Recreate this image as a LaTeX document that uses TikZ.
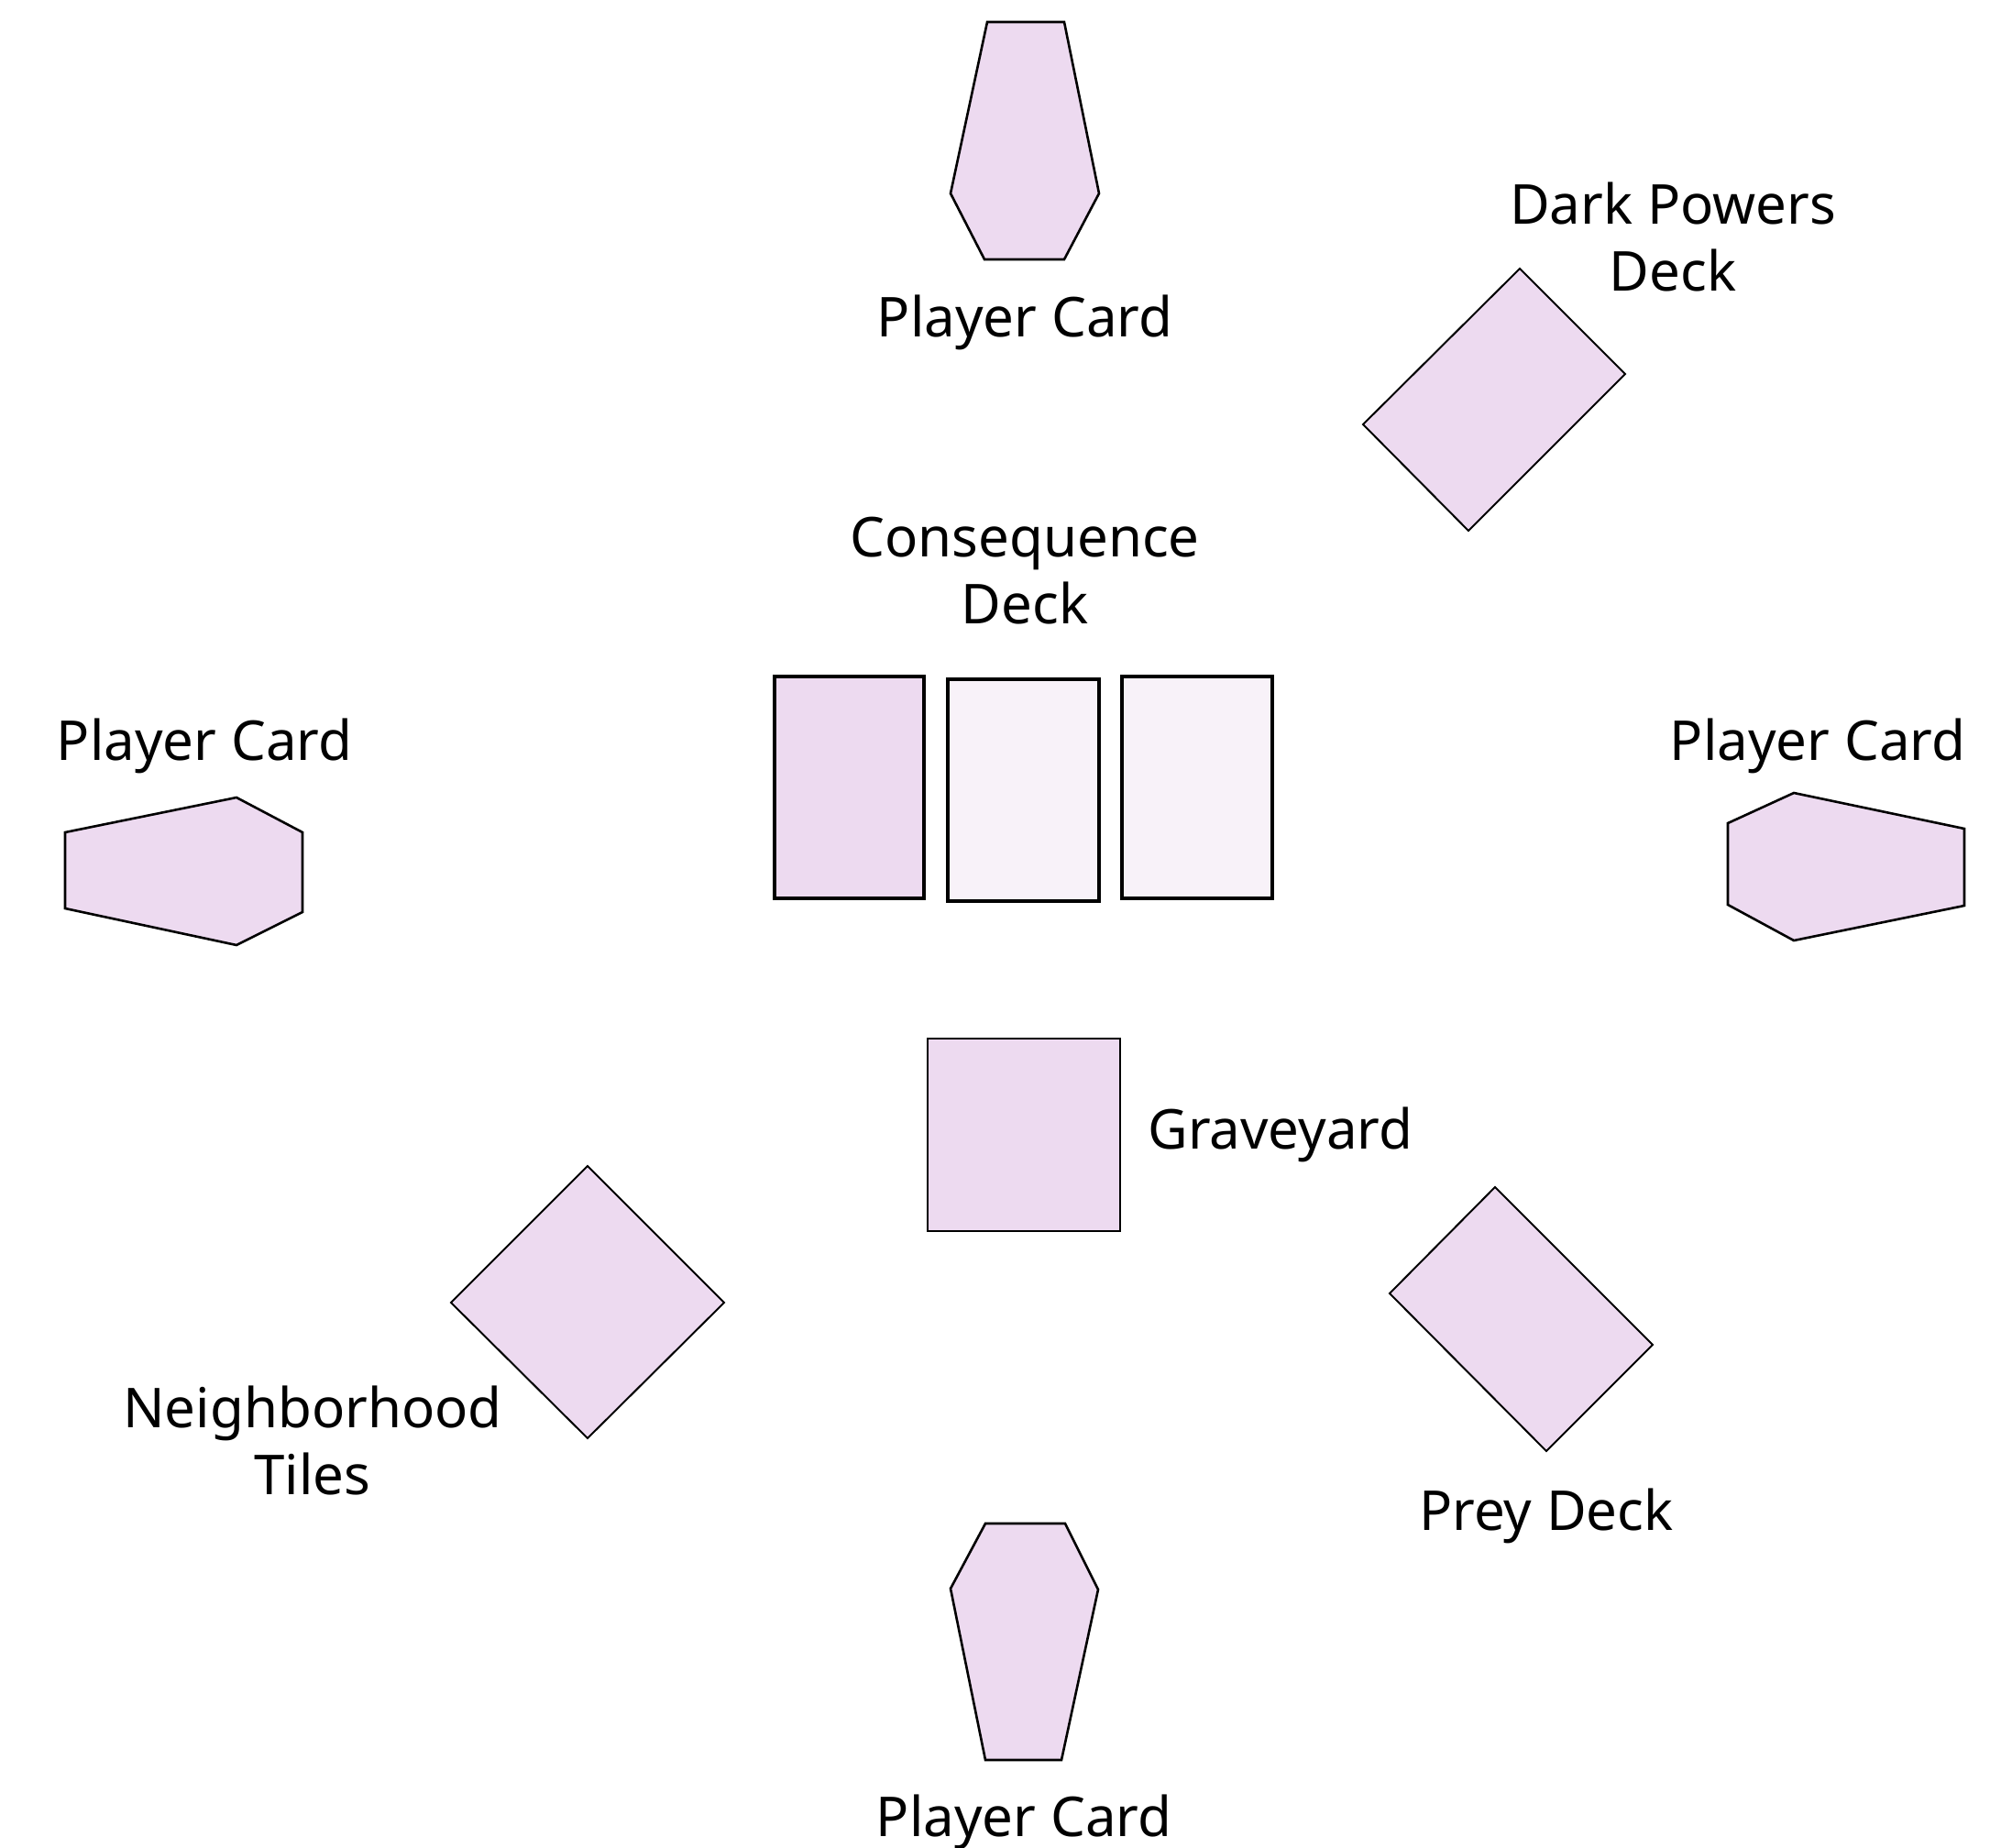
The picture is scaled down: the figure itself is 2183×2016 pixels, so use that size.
\documentclass[tikz,border=0pt]{standalone}
\usepackage{fontspec}
\setmainfont{Noto Sans}
\definecolor{cardfill}{RGB}{237,218,240}
\definecolor{palefill}{RGB}{248,242,249}
\tikzset{
  x=0.5pt, y=-0.5pt,
  piece/.style={draw=black, fill=cardfill, line width=1pt, line join=miter},
  coffin/.style={piece, line width=1.3pt},
  slot/.style={draw=black, line width=1.6pt},
  lbl/.style={font=\fontsize{30}{36.5}\selectfont, inner sep=0pt, anchor=base, align=center, text=black}
}
\begin{document}
\begin{tikzpicture}
\useasboundingbox[fill=white] (0,0) rectangle (2183,2016);
% coffins
\draw[coffin] (1077,24) -- (1161,24) -- (1199,211) -- (1161,283) -- (1074,283) -- (1037,211) -- cycle;
\draw[coffin] (71,908) -- (258,870) -- (330,908) -- (330,995) -- (258,1031) -- (71,991) -- cycle;
\draw[coffin] (2143,904) -- (1957,865) -- (1885,898) -- (1885,987) -- (1957,1026) -- (2143,988) -- cycle;
\draw[coffin] (1075,1662) -- (1162,1662) -- (1198,1734) -- (1158,1920) -- (1075,1920) -- (1037,1733) -- cycle;
% consequence deck
\draw[slot, fill=cardfill] (845,738) rectangle (1008,980);
\draw[slot, fill=palefill] (1034,741) rectangle (1199,983);
\draw[slot, fill=palefill] (1224,738) rectangle (1388,980);
% graveyard
\draw[piece, line width=1.3pt] (1012,1133) rectangle (1222,1343);
% dark powers deck
\draw[piece] (1658,293) -- (1773,408) -- (1602,579) -- (1487,463) -- cycle;
% neighborhood tiles
\draw[piece] (641,1272) -- (790,1421) -- (641,1569) -- (492,1421) -- cycle;
% prey deck
\draw[piece] (1631,1295) -- (1803,1467) -- (1687,1583) -- (1516,1411) -- cycle;
% labels (base = baseline of last line)
\node[lbl] (ptop) at (1118,368) {Player Card};
\node[lbl] (dark) at (1825,318) {Dark Powers\\Deck};
\node[lbl] (cons) at (1118,680) {Consequence\\Deck};
\node[lbl] (pleft) at (223,829) {Player Card};
\node[lbl] (pright) at (1983,829) {Player Card};
\node[lbl, anchor=base west] (grave) at (1252,1253) {Graveyard};
\node[lbl] (neigh) at (341,1630) {Neighborhood\\Tiles};
\node[lbl] (prey) at (1687,1669) {Prey Deck};
\node[lbl] (pbot) at (1117,2003) {Player Card};
\end{tikzpicture}
\end{document}
